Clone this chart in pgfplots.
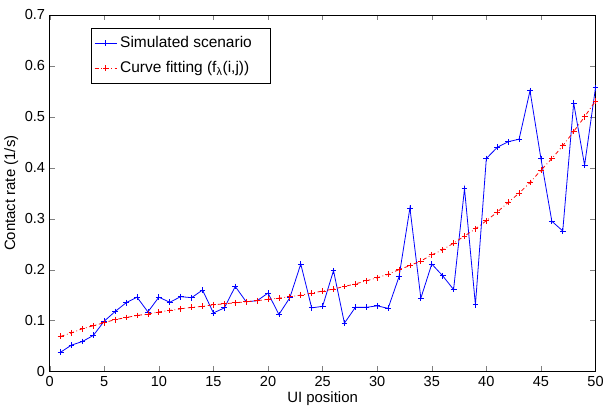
\documentclass[border=0pt]{standalone}
\usepackage{fontspec}
\setmainfont{Liberation Sans}
\usepackage{pgfplots}
\pgfplotsset{compat=1.18}

\pgfplotstableread{
x sim fit
1 0.038 0.069
2 0.052 0.076
3 0.059 0.084
4 0.071 0.090
5 0.099 0.096
6 0.118 0.102
7 0.135 0.106
8 0.146 0.110
9 0.117 0.113
10 0.146 0.117
11 0.136 0.120
12 0.147 0.123
13 0.145 0.126
14 0.160 0.128
15 0.115 0.131
16 0.125 0.133
17 0.167 0.135
18 0.137 0.137
19 0.139 0.139
20 0.154 0.142
21 0.112 0.144
22 0.145 0.147
23 0.211 0.150
24 0.125 0.154
25 0.128 0.158
26 0.198 0.162
27 0.095 0.167
28 0.126 0.172
29 0.126 0.178
30 0.129 0.184
31 0.124 0.191
32 0.186 0.200
33 0.321 0.208
34 0.144 0.217
35 0.211 0.229
36 0.188 0.239
37 0.161 0.252
38 0.359 0.266
39 0.131 0.280
40 0.418 0.296
41 0.440 0.313
42 0.451 0.332
43 0.456 0.350
44 0.551 0.371
45 0.418 0.395
46 0.295 0.418
47 0.276 0.443
48 0.527 0.471
49 0.405 0.500
50 0.557 0.531
}\datatable

\begin{document}
\begin{tikzpicture}
\begin{axis}[
  scale only axis, width=412.5pt, height=269.6pt,
  xmin=0, xmax=50, ymin=0, ymax=0.7,
  xtick={0,5,...,50}, ytick={0,0.1,...,0.7},
  yticklabel style={/pgf/number format/fixed,/pgf/number format/precision=1},
  /pgf/number format/assume math mode=true,
  tick align=inside, tick pos=both, major tick length=4pt,
  tick label style={font=\fontsize{11}{13}\selectfont},
  label style={font=\fontsize{11.3}{13}\selectfont},
  xlabel={UI position}, ylabel={Contact rate (1/s)},
  xlabel style={yshift=3pt}, ylabel style={yshift=-2pt},
  axis line style={line width=0.5pt},
  legend style={at={(rel axis cs:0.076,0.962)}, anchor=north west,
    font=\fontsize{11.7}{13.5}\selectfont, draw=black, line width=0.5pt,
    cells={anchor=west}, inner xsep=2pt, inner ysep=4pt, row sep=5pt},
  legend cell align=left,
]
\addplot[blue, line width=0.6pt, mark=+, mark size=2.2pt] table[x=x, y=sim] {\datatable};
\addlegendentry{Simulated scenario\hspace*{10pt}}
\addplot[red, line width=0.6pt, dash pattern=on 3pt off 2pt on 0.6pt off 2pt, mark=+, mark size=2.2pt, mark options={solid}] table[x=x, y=fit] {\datatable};
\addlegendentry{Curve fitting (f\textsubscript{λ}(i,j))\hspace*{10pt}}
\end{axis}
\path (current bounding box.north) ++(0,4pt);
\end{tikzpicture}
\end{document}
